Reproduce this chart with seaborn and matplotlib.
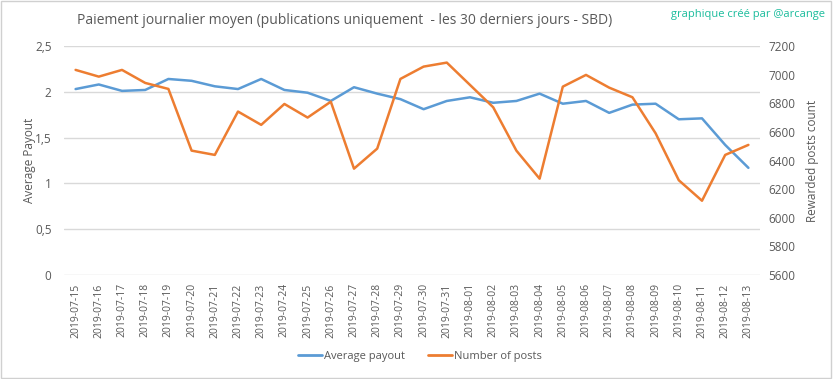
import matplotlib
matplotlib.use("Agg")
import matplotlib.pyplot as plt
import seaborn as sns
import pandas as pd
from matplotlib.patches import Rectangle
from matplotlib.lines import Line2D

dates = ["2019-07-15", "2019-07-16", "2019-07-17", "2019-07-18", "2019-07-19",
         "2019-07-20", "2019-07-21", "2019-07-22", "2019-07-23", "2019-07-24",
         "2019-07-25", "2019-07-26", "2019-07-27", "2019-07-28", "2019-07-29",
         "2019-07-30", "2019-07-31", "2019-08-01", "2019-08-02", "2019-08-03",
         "2019-08-04", "2019-08-05", "2019-08-06", "2019-08-07", "2019-08-08",
         "2019-08-09", "2019-08-10", "2019-08-11", "2019-08-12", "2019-08-13"]
avg_payout = [2.03, 2.08, 2.01, 2.02, 2.14, 2.12, 2.06, 2.03, 2.14, 2.02,
              1.99, 1.90, 2.05, 1.98, 1.92, 1.81, 1.90, 1.94, 1.88, 1.90,
              1.98, 1.87, 1.90, 1.77, 1.86, 1.87, 1.70, 1.71, 1.42, 1.17]
num_posts = [7033, 6986, 7033, 6942, 6900, 6469, 6439, 6742, 6649, 6795,
             6700, 6811, 6343, 6483, 6970, 7056, 7084, 6928, 6772, 6469,
             6273, 6916, 6998, 6909, 6842, 6590, 6262, 6119, 6439, 6509]
left_ticks = [0, 0.5, 1, 1.5, 2, 2.5]
left_labels = ["0", "0,5", "1", "1,5", "2", "2,5"]
right_ticks = [5600, 5800, 6000, 6200, 6400, 6600, 6800, 7000, 7200]

sns.set_style("white")
plt.rcParams['font.family'] = ['Open Sans', 'DejaVu Sans']

BLUE = "#5B9BD5"
ORANGE = "#ED7D31"
GRID = "#D9D9D9"
TXT = "#595959"

df = pd.DataFrame({"date": dates, "avg": avg_payout, "posts": num_posts})
df["pos"] = range(len(df))

fig = plt.figure(figsize=(8.33, 3.79), dpi=100)
ax = fig.add_axes([64/833, 1 - 275/379, 696/833, 229/379])
ax2 = ax.twinx()

sns.lineplot(data=df, x="pos", y="avg", ax=ax, color=BLUE, linewidth=1.8)
sns.lineplot(data=df, x="pos", y="posts", ax=ax2, color=ORANGE, linewidth=1.8)

ax.set_xlim(-0.5, len(dates) - 0.5)
ax.set_ylim(0, 2.5)
ax2.set_ylim(5600, 7200)
ax.set_yticks(left_ticks)
ax.set_yticklabels(left_labels)
ax2.set_yticks(right_ticks)
ax.set_xticks(range(len(dates)))
ax.set_xticklabels(dates, rotation=90)

ax.grid(axis="y", color=GRID, linewidth=1)
ax.set_axisbelow(True)
for a in (ax, ax2):
    for s in a.spines.values():
        s.set_visible(False)
    a.tick_params(length=0, colors=TXT)
ax.tick_params(axis="x", labelsize=7.5, pad=6)
ax.tick_params(axis="y", labelsize=8.5, pad=9)
ax2.tick_params(axis="y", labelsize=8.5, pad=6)

ax.set_xlabel("")
ax.set_ylabel("Average Payout", color=TXT, fontsize=8.5, labelpad=-1)
ax2.set_ylabel("Rewarded posts count", color=TXT, fontsize=8.5, labelpad=8)

fig.text(345/833, 1 - 20/379, "Paiement journalier moyen (publications uniquement  - les 30 derniers jours - SBD)",
         ha="center", va="center", fontsize=10, color=TXT)
fig.text(825/833, 1 - 15/379, "graphique créé par @arcange", ha="right", va="center",
         fontsize=8, color="#1ABC9C")

handles = [Line2D([0], [0], color=BLUE, lw=2), Line2D([0], [0], color=ORANGE, lw=2)]
fig.legend(handles, ["Average payout", "Number of posts"], loc="center",
           bbox_to_anchor=(420/833, 1 - 356/379), ncol=2, frameon=False,
           fontsize=8, labelcolor=TXT, handlelength=2.2, handletextpad=0.2,
           columnspacing=2)

fig.patches.append(Rectangle((0.001, 0.002), 0.997, 0.995, transform=fig.transFigure,
                             fill=False, edgecolor="#D0D0D0", linewidth=1))

fig.savefig("out.png", dpi=100)
